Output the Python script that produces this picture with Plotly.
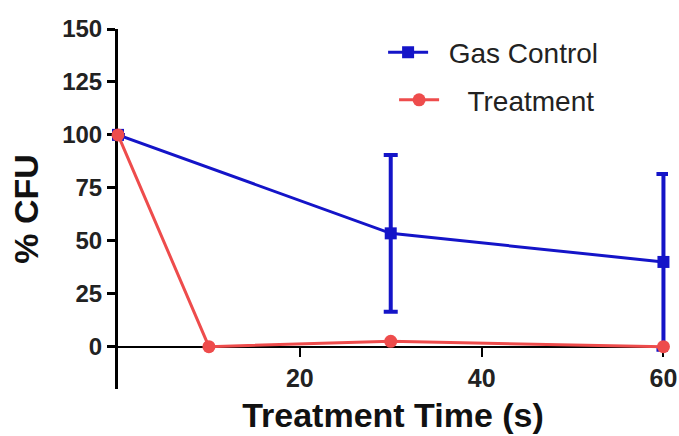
import plotly.graph_objects as go

# Survival (% CFU) versus treatment time
gas_time = [0, 30, 60]
gas_cfu = [100, 53.5, 40]
gas_err = [0, 37, 41.5]

trt_time = [0, 10, 30, 60]
trt_cfu = [100, 0, 2.5, 0]

y_ticks = [0, 25, 50, 75, 100, 125, 150]
x_ticks = [20, 40, 60]

BLUE = "#1414c8"
RED = "#ee4c4c"
FONT = "Liberation Sans, Arial, sans-serif"
NBSP = "\u00a0"

fig = go.Figure()

fig.add_trace(go.Scatter(
    x=gas_time, y=gas_cfu, name=NBSP * 2 + "Gas Control", mode="lines+markers",
    line=dict(color=BLUE, width=3),
    marker=dict(symbol="square", size=12, color=BLUE),
    error_y=dict(type="data", array=gas_err, visible=True, color=BLUE,
                 thickness=4, width=7),
    cliponaxis=False, legend="legend", showlegend=True,
))

fig.add_trace(go.Scatter(
    x=trt_time, y=trt_cfu, name=NBSP * 3 + "Treatment", mode="lines+markers",
    line=dict(color=RED, width=3),
    marker=dict(symbol="circle", size=13, color=RED),
    cliponaxis=False, legend="legend2", showlegend=True,
))

y_lo, y_hi = -20, 150

fig.update_layout(
    width=679, height=436,
    showlegend=True,
    margin=dict(l=118, r=11, t=29, b=47, autoexpand=False),
    paper_bgcolor="white", plot_bgcolor="white",
    font=dict(family=FONT, color="#222222"),
    xaxis=dict(
        range=[0, 60.5], tickvals=x_ticks, ticks="outside", ticklen=9,
        tickwidth=2, tickcolor="black", showline=True, linecolor="black",
        linewidth=2, showgrid=False, zeroline=False,
        anchor="free", position=(0 - y_lo) / (y_hi - y_lo),
        layer="below traces",
        tickfont=dict(size=25, family=FONT, weight="bold", color="#222222"),
        title=dict(text="Treatment Time (s)", standoff=12,
                   font=dict(size=34, family=FONT, weight="bold", color="#111111")),
    ),
    yaxis=dict(
        range=[y_lo, y_hi], tickvals=y_ticks, ticks="outside", ticklen=8,
        tickwidth=3, tickcolor="black", showline=True, linecolor="black",
        linewidth=3, showgrid=False, zeroline=False, layer="below traces",
        tickfont=dict(size=24, family=FONT, weight="bold", color="#222222"),
        title=dict(text="% CFU", standoff=14,
                   font=dict(size=34, family=FONT, weight="bold", color="#111111")),
    ),
    legend=dict(x=0.482, y=1.004, xanchor="left", yanchor="top",
                bgcolor="rgba(0,0,0,0)", visible=True,
                font=dict(size=28, family=FONT, color="#222222"), itemwidth=40),
    legend2=dict(x=0.502, y=0.872, xanchor="left", yanchor="top",
                 bgcolor="rgba(0,0,0,0)", visible=True,
                 font=dict(size=28, family=FONT, color="#222222"), itemwidth=40),
)

fig.write_html("out.html")
